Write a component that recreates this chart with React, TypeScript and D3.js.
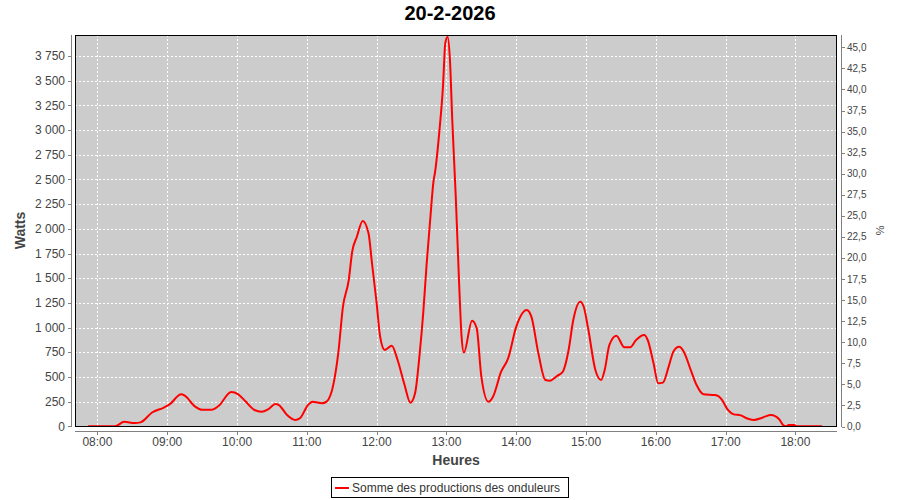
import React from "react";
import * as d3 from "d3";

const TITLE = "20-2-2026";
const SERIES_NAME = "Somme des productions des onduleurs";
const X_LABEL = "Heures";
const Y_LABEL = "Watts";
const Y2_LABEL = "%";

const times = [
  "07:52","08:15","08:23","08:32","08:37","08:47","08:57","09:02","09:12","09:15",
  "09:24","09:30","09:38","09:44","09:55","10:01","10:07","10:15","10:21","10:27",
  "10:33","10:36","10:43","10:50","10:54","11:01","11:05","11:13","11:17","11:23",
  "11:27","11:31","11:36","11:39","11:43","11:48","11:53","11:56","12:00","12:03",
  "12:07","12:13","12:18","12:24","12:29","12:33","12:37","12:40","12:43","12:46",
  "12:49","12:50","12:54","12:57","12:59","13:01","13:03","13:05","13:08","13:11",
  "13:13","13:15","13:22","13:26","13:30","13:36","13:40","13:47","13:53","14:00",
  "14:09","14:13","14:19","14:25","14:29","14:35","14:40","14:45","14:49","14:55",
  "14:58","15:02","15:08","15:13","15:16","15:20","15:26","15:33","15:38","15:43",
  "15:50","15:53","15:58","16:02","16:06","16:11","16:15","16:20","16:24","16:30",
  "16:35","16:41","16:51","16:57","17:01","17:07","17:13","17:18","17:24","17:32",
  "17:39","17:46","17:50","17:52","17:54","17:59","18:01","18:23"
];
const watts = [
  0,0,45,33,40,140,190,222,324,310,
  200,168,168,205,347,324,256,165,148,175,
  226,215,114,64,81,216,249,233,250,435,
  740,1210,1480,1770,1920,2080,1955,1650,1245,907,
  773,817,671,418,239,334,739,1144,1650,2089,
  2494,2560,3000,3440,3880,3946,3710,3100,2325,1414,
  907,747,1069,992,502,249,300,553,688,1009,
  1178,1110,739,469,462,509,553,773,1076,1262,
  1211,975,570,469,570,823,918,800,800,874,
  925,874,638,435,442,604,756,806,756,570,
  418,324,317,266,182,121,111,81,64,90,
  114,71,6,0,12,12,0,0
];

const xTickLabels = ["08:00","09:00","10:00","11:00","12:00","13:00","14:00","15:00","16:00","17:00","18:00"];
const yTicks = [0,250,500,750,1000,1250,1500,1750,2000,2250,2500,2750,3000,3250,3500,3750];
const y2Ticks = [0,2.5,5,7.5,10,12.5,15,17.5,20,22.5,25,27.5,30,32.5,35,37.5,40,42.5,45];

const toMin = (s: string) => {
  const [h, m] = s.split(":").map(Number);
  return h * 60 + m;
};

const FONT = "'Liberation Sans', Arial, sans-serif";

export default function App() {
  const L = 75, T = 35, R = 837, B = 426;
  const x = d3.scaleLinear().domain([460.7, 1115.7]).range([L, R]);
  const y = d3.scaleLinear().domain([0, 3963]).range([B + 0.3, T]);
  const y2 = d3.scaleLinear().domain([0, 46.46]).range([B + 0.5, T]);

  const data = times.map((t, i) => ({ t: toMin(t), v: watts[i] }));
  const line = d3
    .line<{ t: number; v: number }>()
    .x((d) => x(d.t))
    .y((d) => y(d.v))
    .curve(d3.curveMonotoneX);

  const fmtW = (v: number) => {
    const s = String(v);
    return s.length > 3 ? s.slice(0, s.length - 3) + " " + s.slice(-3) : s;
  };
  const fmtP = (v: number) => v.toFixed(1).replace(".", ",");

  return (
    <svg
      width={900}
      height={500}
      style={{ position: "absolute", left: 0, top: 0, background: "#fff" }}
      fontFamily={FONT}
    >
      <defs>
        <clipPath id="plotclip">
          <rect x={L} y={T} width={R - L} height={B - T} />
        </clipPath>
      </defs>
      <text x={450} y={20} textAnchor="middle" fontSize={20} fontWeight="bold" fill="#000">
        {TITLE}
      </text>

      <rect x={L} y={T} width={R - L} height={B - T} fill="#cccccc" />
      <g shapeRendering="crispEdges" stroke="#fff" strokeWidth={1} strokeDasharray="2,2">
        {yTicks.slice(1).map((v) => (
          <line key={"gy" + v} x1={L} x2={R} y1={Math.round(y(v)) + 0.5} y2={Math.round(y(v)) + 0.5} />
        ))}
        {xTickLabels.map((s) => (
          <line key={"gx" + s} x1={Math.round(x(toMin(s))) + 0.5} x2={Math.round(x(toMin(s))) + 0.5} y1={T} y2={B} />
        ))}
      </g>
      <g clipPath="url(#plotclip)">
        <path d={line(data) || ""} fill="none" stroke="#ff0000" strokeWidth={2} strokeLinejoin="round" />
      </g>
      <rect x={L + 0.5} y={T + 0.5} width={R - L - 1} height={B - T} fill="none" stroke="#000" strokeWidth={1} shapeRendering="crispEdges" />

      {/* left axis */}
      <g shapeRendering="crispEdges">
        <line x1={71.5} x2={71.5} y1={T} y2={B + 1} stroke="#808080" />
        {yTicks.map((v) => (
          <line key={"ty" + v} x1={68} x2={71} y1={Math.round(y(v)) + 0.5} y2={Math.round(y(v)) + 0.5} stroke="#808080" />
        ))}
      </g>
      {yTicks.map((v) => (
        <text key={"ly" + v} x={65} y={y(v)} dy="0.35em" textAnchor="end" fontSize={12} fill="#444">
          {fmtW(v)}
        </text>
      ))}
      <text
        transform={`translate(25,${(T + B) / 2}) rotate(-90)`}
        textAnchor="middle"
        fontSize={14}
        fontWeight="bold"
        fill="#444"
      >
        {Y_LABEL}
      </text>

      {/* right axis */}
      <g shapeRendering="crispEdges">
        <line x1={841.5} x2={841.5} y1={T} y2={B + 1} stroke="#808080" />
        {y2Ticks.map((v) => (
          <line key={"ty2" + v} x1={842} x2={845} y1={Math.round(y2(v)) + 0.5} y2={Math.round(y2(v)) + 0.5} stroke="#808080" />
        ))}
      </g>
      {y2Ticks.map((v) => (
        <text key={"ly2" + v} x={847} y={y2(v)} dy="0.35em" textAnchor="start" fontSize={10} fill="#444">
          {fmtP(v)}
        </text>
      ))}
      <text
        transform={`translate(876,${(T + B) / 2}) rotate(90)`}
        textAnchor="middle"
        fontSize={11}
        fill="#444"
      >
        {Y2_LABEL}
      </text>

      {/* x axis */}
      <g shapeRendering="crispEdges">
        <line x1={L} x2={R} y1={431.5} y2={431.5} stroke="#808080" />
        {xTickLabels.map((s) => (
          <line key={"tx" + s} x1={Math.round(x(toMin(s))) + 0.5} x2={Math.round(x(toMin(s))) + 0.5} y1={432} y2={435} stroke="#808080" />
        ))}
      </g>
      {xTickLabels.map((s) => (
        <text key={"lx" + s} x={x(toMin(s))} y={446} textAnchor="middle" fontSize={12} fill="#444">
          {s}
        </text>
      ))}
      <text x={(L + R) / 2} y={465} textAnchor="middle" fontSize={14} fontWeight="bold" fill="#444">
        {X_LABEL}
      </text>

      {/* legend */}
      <rect x={331.5} y={477.5} width={237} height={20} fill="#fff" stroke="#000" shapeRendering="crispEdges" />
      <line x1={335} x2={349} y1={488} y2={488} stroke="#ff0000" strokeWidth={2} />
      <text x={352} y={492} fontSize={12} fill="#333">
        {SERIES_NAME}
      </text>
    </svg>
  );
}
